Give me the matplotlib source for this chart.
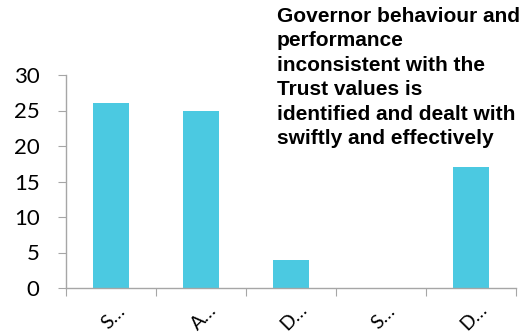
import matplotlib
matplotlib.use("Agg")
import matplotlib.pyplot as plt
import numpy as np

labels = ["S\u2026", "A\u2026", "D\u2026", "S\u2026", "D\u2026"]
counts = [26, 25, 4, 0, 17]
title_lines = ["Governor behaviour and", "performance",
               "inconsistent with the", "Trust values is",
               "identified and dealt with", "swiftly and effectively"]

BAR = "#4BC9E1"
GRID = "#A6A6A6"

fig = plt.figure(figsize=(5.21, 3.32), dpi=100)
ax = fig.add_axes([66/521, 1-288/332, 450/521, 213/332])

x = np.arange(len(counts))
ax.bar(x, counts, width=0.41, color=BAR)
ax.set_xlim(-0.5, len(counts)-0.5)
ax.set_ylim(0, 30)
ax.set_yticks(range(0, 31, 5))

for s in ["top", "right"]:
    ax.spines[s].set_visible(False)
for s in ["left", "bottom"]:
    ax.spines[s].set_color(GRID)
    ax.spines[s].set_linewidth(1.0)

ax.tick_params(axis="y", length=6, color=GRID, labelsize=16, pad=13)
ax.set_yticklabels([str(v) for v in range(0, 31, 5)], family="Lato")
# category ticks sit on the boundaries between bars
ax.set_xticks(np.arange(len(counts)+1) - 0.5)
ax.set_xticklabels([])
ax.tick_params(axis="x", length=6, color=GRID)
for i, lab in enumerate(labels):
    ax.text(i + 0.03, -4.1, lab, rotation=45, ha="center", va="center",
            fontsize=14, family="Lato", clip_on=False)

fig.text(277/521, 1-7/332, "\n".join(title_lines), ha="left", va="top",
         fontsize=15, fontweight="bold", family="Liberation Sans",
         linespacing=1.36)

fig.savefig("out.png", dpi=100)
